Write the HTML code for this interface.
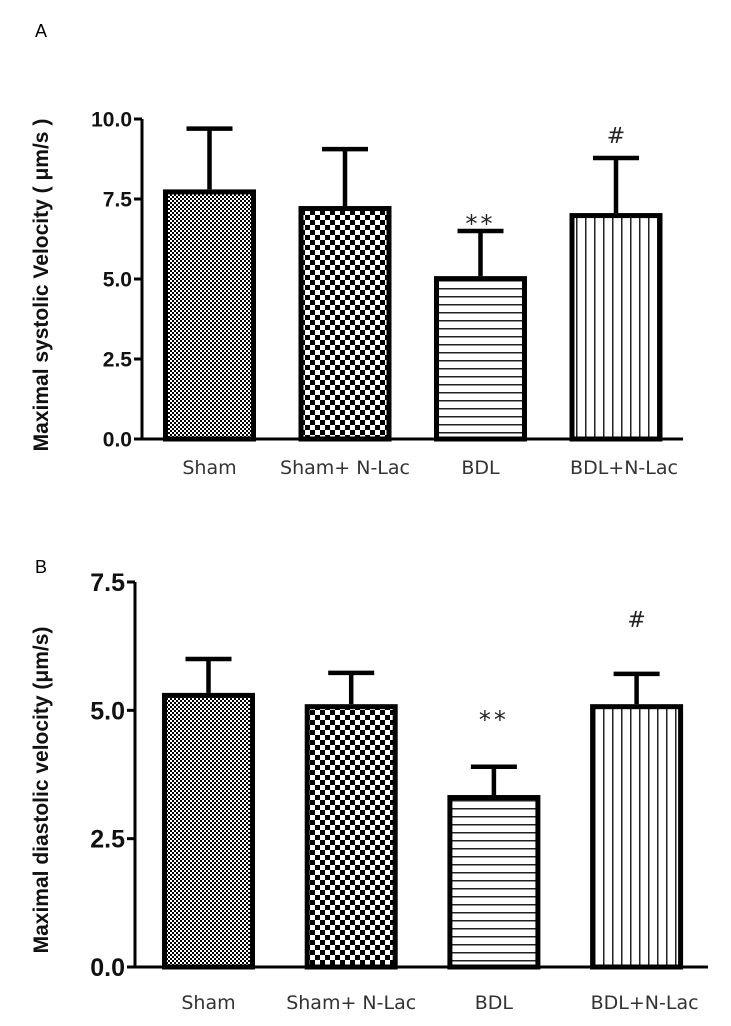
<!DOCTYPE html>
<html><head><meta charset="utf-8">
<style>
body{margin:0;background:#fff;width:731px;height:1026px;overflow:hidden}
svg{display:block}
text{font-family:"Liberation Sans",sans-serif}
</style></head>
<body>
<svg id="s" width="731" height="1026">
<defs>
<pattern id="pFine" width="4" height="4" patternUnits="userSpaceOnUse"><rect width="4" height="4" fill="#fff"/><rect width="2" height="2" fill="#000"/><rect x="2" y="2" width="2" height="2" fill="#000"/></pattern>
<pattern id="pCheck" width="10" height="10" patternUnits="userSpaceOnUse"><rect width="10" height="10" fill="#fff"/><rect width="5" height="5" fill="#000"/><rect x="5" y="5" width="5" height="5" fill="#000"/></pattern>
<pattern id="pHoriz" width="10" height="8" patternUnits="userSpaceOnUse"><rect width="10" height="8" fill="#fff"/><rect y="0" width="10" height="1.5" fill="#222"/></pattern>
<pattern id="pVert" width="9" height="10" patternUnits="userSpaceOnUse"><rect width="9" height="10" fill="#fff"/><rect x="0" width="1.5" height="10" fill="#222"/></pattern>
</defs>
<text x="35" y="37" font-size="18">A</text>
<text x="35" y="573" font-size="18">B</text>
</svg>
<script>
const categories=["Sham","Sham+ N-Lac","BDL","BDL+N-Lac"];
const sysMeans=[7.8,7.28,5.09,7.06];
const sysErr=[1.9,1.78,1.41,1.72];
const sysTicks=[0,2.5,5,7.5,10];
const sysTickLabels=["0.0","2.5","5.0","7.5","10.0"];
const sysMarks=["","","**","#"];
const diaMeans=[5.34,5.12,3.35,5.12];
const diaErr=[0.66,0.61,0.55,0.59];
const diaTicks=[0,2.5,5,7.5];
const diaTickLabels=["0.0","2.5","5.0","7.5"];
const diaMarks=["","","**","#"];
const fills=["url(#pFine)","url(#pCheck)","url(#pHoriz)","url(#pVert)"];
const NS="http://www.w3.org/2000/svg",svg=document.getElementById('s');
function mk(t,a,p){const e=document.createElementNS(NS,t);for(const k in a)e.setAttribute(k,a[k]);(p||svg).appendChild(e);return e;}
function chart(cfg){
  const g=mk('g',{});
  
  
  const y=v=>cfg.y0-(v-0)*(cfg.y0-cfg.yTop)/cfg.max;
  const x0=cfg.x0;
  const ax=mk('path',{d:`M${x0},${y(cfg.max)} L${x0},${cfg.y0} L${cfg.xEnd},${cfg.y0}`,stroke:'#000','stroke-width':3,fill:'none'},g);
  
  
  cfg.ticks.forEach((t,i)=>{
    mk('line',{x1:x0-8,x2:x0,y1:y(t),y2:y(t),stroke:'#000','stroke-width':3},g);
    const tx=mk('text',{x:x0-10,y:y(t)+cfg.tickFs*0.36,'font-size':cfg.tickFs,'font-weight':'bold','text-anchor':'end',fill:'#111'},g);
    tx.textContent=cfg.tickLabels[i];
    
    
  });
  const bw=cfg.bw;
  cfg.means.forEach((m,i)=>{
    const bx=cfg.barX0+i*cfg.step, cx=bx+bw/2;
    const et=y(m+cfg.err[i]);
    const el=mk('path',{d:`M${cx},${y(m)} L${cx},${et} M${cx-23},${et} L${cx+23},${et}`,stroke:'#000','stroke-width':4.5,fill:'none'},g);
    
    
    const r=mk('rect',{x:bx+2.5,y:y(m)+2.5,width:bw-5,height:cfg.y0-y(m)-2.5,fill:fills[i],stroke:'#000','stroke-width':5},g);
    
    
    const lb=mk('text',{x:cx+(i==3?8:0),y:cfg.labY,'font-size':19,'text-anchor':'middle',fill:'#333',style:'font-family:"DejaVu Sans",sans-serif'},g);
    lb.textContent=categories[i];
    
    
    if(cfg.marks[i]){
      const isHash=cfg.marks[i]=="#";
      const mt=mk('text',{x:cx,y:isHash?cfg.hashY:cfg.starY,'font-size':isHash?22:24,'letter-spacing':isHash?0:3,'text-anchor':'middle',fill:'#222',style:'font-family:"DejaVu Sans",sans-serif'},g);
      mt.textContent=cfg.marks[i];
      
      
    }
  });
  const tt=mk('text',{x:0,y:0,'font-size':cfg.titleFs,'font-weight':'bold','text-anchor':'middle',fill:'#111',transform:`translate(${cfg.titleX},${cfg.titleY}) rotate(-90)`},g);
  tt.textContent=cfg.title;
  
  
}
chart({name:'systolic-chart',x0:142,y0:439,yTop:119,max:10,xEnd:683,ticks:sysTicks,tickLabels:sysTickLabels,tickFs:21,
  means:sysMeans,err:sysErr,marks:sysMarks,bw:93,barX0:163,step:135.5,labY:474,starY:232,hashY:143,
  title:'Maximal systolic Velocity ( μm/s )',titleX:48,titleY:285,titleFs:21});
chart({name:'diastolic-chart',x0:135,y0:967,yTop:582,max:7.5,xEnd:708,ticks:diaTicks,tickLabels:diaTickLabels,tickFs:25,
  means:diaMeans,err:diaErr,marks:diaMarks,bw:93,barX0:162,step:142.7,labY:1009,starY:728,hashY:627,
  title:'Maximal diastolic velocity (μm/s)',titleX:48,titleY:790,titleFs:21});
</script>
</body></html>
